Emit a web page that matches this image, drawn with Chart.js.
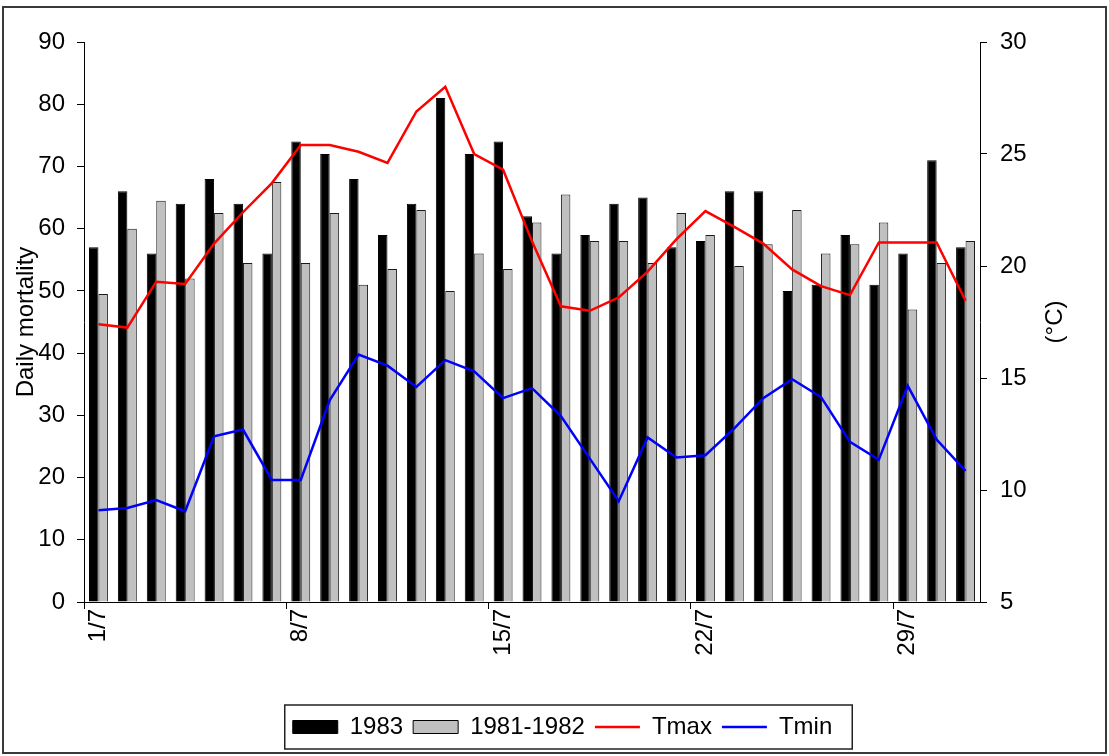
<!DOCTYPE html>
<html>
<head>
<meta charset="utf-8">
<script src="https://cdn.jsdelivr.net/npm/chart.js@4.4.1/dist/chart.umd.min.js"></script>
<style>
  html, body { margin: 0; padding: 0; background: #ffffff; }
  #wrap { position: relative; width: 1109px; height: 756px; }
</style>
</head>
<body>
<div id="wrap"><canvas id="c" width="1109" height="756"></canvas></div>
<script>
// Days of July
const categories = ['1/7','2/7','3/7','4/7','5/7','6/7','7/7','8/7','9/7','10/7','11/7','12/7','13/7','14/7','15/7','16/7',
  '17/7','18/7','19/7','20/7','21/7','22/7','23/7','24/7','25/7','26/7','27/7','28/7','29/7','30/7','31/7'];
// Labels printed along the date axis
const tickLabels = ['1/7','8/7','15/7','22/7','29/7'];

// Daily mortality
const mortality1983 = [57, 66, 56, 64, 68, 64, 56, 74, 72, 68, 59, 64, 81, 72, 74, 62,
  56, 59, 64, 65, 57, 58, 66, 66, 50, 51, 59, 51, 56, 71, 57];
const mortality1981_1982 = [49.5, 60, 64.5, 52, 62.5, 54.5, 67.5, 54.5, 62.5, 51, 53.5, 63, 50, 56, 53.5, 61,
  65.5, 58, 58, 54.5, 62.5, 59, 54, 57.5, 63, 56, 57.5, 61, 47, 54.5, 58];

// Temperatures (°C)
const tmax = [17.4, 17.25, 19.3, 19.2, 21.0, 22.4, 23.7, 25.4, 25.4, 25.1, 24.6, 26.9, 28.0, 25.0, 24.3, 21.1,
  18.2, 18.0, 18.6, 19.75, 21.2, 22.45, 21.75, 21.0, 19.85, 19.1, 18.7, 21.05, 21.05, 21.05, 18.45];
const tmin = [9.1, 9.2, 9.55, 9.05, 12.4, 12.7, 10.45, 10.45, 14.0, 16.05, 15.55, 14.6, 15.8, 15.3, 14.1, 14.55,
  13.3, 11.4, 9.5, 12.35, 11.45, 11.55, 12.75, 14.1, 14.95, 14.15, 12.15, 11.35, 14.65, 12.25, 10.85];

const FONT = "'Liberation Sans', Arial, sans-serif";
const FS = 24;
const LEGEND_SHIFT = 8;

// Frame round the whole chart, frame round the legend, and the right axis title
const decorations = {
  id: 'decorations',
  afterLayout(chart) {
    // nudge the legend row a little to the right
    const lg = chart.legend;
    if (lg) { lg.left += LEGEND_SHIFT; lg.right += LEGEND_SHIFT; }
  },
  afterDraw(chart) {
    const ctx = chart.ctx;
    ctx.save();
    // outer border
    ctx.strokeStyle = '#3a3a3a';
    ctx.lineWidth = 2;
    ctx.strokeRect(3, 7, 1103, 746);

    // legend border
    const lg = chart.legend;
    if (lg && lg.legendHitBoxes && lg.legendHitBoxes.length) {
      const boxes = lg.legendHitBoxes;
      const left = boxes[0].left - 8;
      const last = boxes[boxes.length - 1];
      const right = last.left + last.width + 20;
      const midY = boxes[0].top + boxes[0].height / 2;
      ctx.strokeStyle = '#222';
      ctx.lineWidth = 1.5;
      ctx.strokeRect(left, midY - 22, right - left, 44);
    }

    // right axis title, reading bottom to top
    const y1 = chart.scales.y1;
    const ca = chart.chartArea;
    ctx.translate(y1.right - 54, (ca.top + ca.bottom) / 2);
    ctx.rotate(-Math.PI / 2);
    ctx.fillStyle = '#000';
    ctx.font = FS + 'px ' + FONT;
    ctx.textAlign = 'center';
    ctx.textBaseline = 'middle';
    ctx.fillText('(°C)', 0, 0);
    ctx.restore();
  }
};

new Chart(document.getElementById('c'), {
  data: {
    labels: categories,
    datasets: [
      {
        type: 'bar', label: '1983', data: mortality1983, yAxisID: 'y',
        backgroundColor: '#000000', borderColor: '#000000', borderWidth: 1,
        categoryPercentage: 0.655, barPercentage: 1.0, order: 2
      },
      {
        type: 'bar', label: '1981-1982', data: mortality1981_1982, yAxisID: 'y',
        backgroundColor: '#c0c0c0', borderColor: '#1a1a1a', borderWidth: 1,
        categoryPercentage: 0.655, barPercentage: 1.0, order: 2
      },
      {
        type: 'line', label: 'Tmax', data: tmax, yAxisID: 'y1',
        borderColor: '#ff0000', backgroundColor: '#ff0000', borderWidth: 2.5,
        pointRadius: 0, tension: 0, order: 1
      },
      {
        type: 'line', label: 'Tmin', data: tmin, yAxisID: 'y1',
        borderColor: '#0000ff', backgroundColor: '#0000ff', borderWidth: 2.5,
        pointRadius: 0, tension: 0, order: 0
      }
    ]
  },
  options: {
    responsive: false,
    animation: false,
    events: [],
    layout: { padding: { top: 42, left: 0, right: 0, bottom: 7 } },
    plugins: {
      tooltip: { enabled: false },
      legend: {
        position: 'bottom',
        labels: {
          color: '#000',
          font: { family: FONT, size: FS },
          usePointStyle: true,
          pointStyleWidth: 45,
          boxWidth: 45,
          boxHeight: 13,
          padding: 10,
          sort: (a, b) => a.datasetIndex - b.datasetIndex,
          generateLabels(chart) {
            const items = Chart.defaults.plugins.legend.labels.generateLabels(chart);
            return items.map(it => {
              const ds = chart.data.datasets[it.datasetIndex];
              if (ds.type === 'line') {
                it.pointStyle = 'line';
                it.strokeStyle = ds.borderColor;
                it.lineWidth = 2.5;
              } else {
                it.pointStyle = 'rect';
                it.fillStyle = ds.backgroundColor;
                it.strokeStyle = '#000';
                it.lineWidth = 1;
              }
              return it;
            });
          }
        }
      }
    },
    scales: {
      x: {
        type: 'category',
        offset: true,
        grid: {
          offset: true,
          drawOnChartArea: false,
          drawTicks: true,
          tickLength: 7,
          color: c => (c.index % 7 === 0 ? '#000' : 'rgba(0,0,0,0)'),
          lineWidth: 1
        },
        border: { color: '#000', width: 1 },
        ticks: {
          autoSkip: false,
          maxRotation: 90,
          minRotation: 90,
          padding: 0,
          color: '#000',
          font: { family: FONT, size: FS },
          callback(value, index) {
            const lab = categories[index];
            return tickLabels.includes(lab) ? lab : '';
          }
        },
        afterFit(scale) { scale.height = 103; }
      },
      y: {
        position: 'left',
        min: 0, max: 90,
        grid: { drawOnChartArea: false, drawTicks: true, tickLength: 7, color: '#000' },
        border: { color: '#000', width: 1 },
        ticks: { stepSize: 10, padding: 12, color: '#000', font: { family: FONT, size: FS } },
        title: {
          display: true, text: 'Daily mortality', color: '#000',
          font: { family: FONT, size: FS }, padding: { top: 12, bottom: 0 }
        },
        afterFit(scale) { scale.width = 84; }
      },
      y1: {
        position: 'right',
        min: 5, max: 30,
        grid: { drawOnChartArea: false, drawTicks: true, tickLength: 7, color: '#000' },
        border: { color: '#000', width: 1 },
        ticks: { stepSize: 5, padding: 13, color: '#000', font: { family: FONT, size: FS } },
        afterFit(scale) { scale.width = 129; }
      }
    }
  },
  plugins: [decorations]
});
</script>
</body>
</html>
